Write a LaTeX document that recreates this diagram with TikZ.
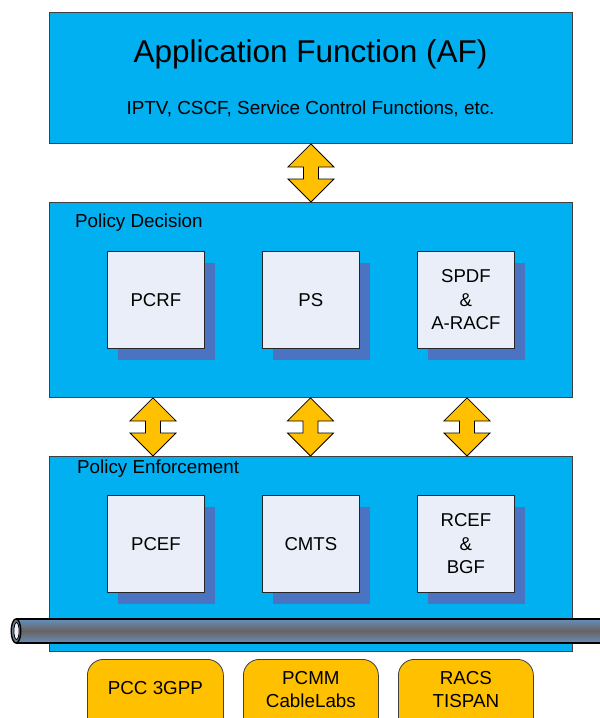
\documentclass[tikz,border=0pt]{standalone}
\usepackage{fontspec}
\setmainfont{Liberation Sans}
\usetikzlibrary{calc,shadows}
\definecolor{layerblue}{HTML}{00B0F0}
\definecolor{cellfill}{HTML}{E9EEF8}
\definecolor{cellshadow}{HTML}{4A74C2}
\definecolor{amber}{HTML}{FFC000}
\definecolor{pipeblue}{HTML}{6490BC}
\definecolor{pipegray}{HTML}{6A6262}
% two-headed block arrow from a top tip to a bottom tip
\newcommand\bothways[2]{%
  \draw[updown] (#1) -- ++(23,23) -- ++(-15.5,0) -- ($(#2)+(7.5,-23)$)
    -- ++(15.5,0) -- (#2) -- ++(-23,-23) -- ++(15.5,0)
    -- ($(#1)+(-7.5,23)$) -- ++(-15.5,0) -- cycle;}
\begin{document}
\begin{tikzpicture}[x=1pt,y=-1pt,
  layer/.style={draw=black!75, line width=0.9pt, fill=layerblue,
    anchor=north west, inner sep=0pt, minimum width=523pt},
  cell/.style={draw=black!85, line width=0.8pt, fill=cellfill,
    anchor=north west, minimum width=97pt, minimum height=97pt,
    inner sep=0pt, align=center, font=\fontsize{18.6}{23.5}\selectfont,
    general shadow={fill=cellshadow, shadow xshift=11pt, shadow yshift=-12pt}},
  tag/.style={draw=black!75, line width=0.8pt, fill=amber,
    rounded corners=16pt, anchor=north west, minimum height=80pt, inner sep=0pt},
  tagtext/.style={align=center, inner sep=0pt, font=\fontsize{18.8}{23}\selectfont},
  caption/.style={anchor=base west, inner sep=0pt, font=\fontsize{18.8}{23}\selectfont},
  updown/.style={fill=amber, draw=black, line width=0.8pt, line join=miter},
  tube/.style={line width=1.4pt, draw=black}]
\useasboundingbox (0,0) rectangle (600,718);
\clip (0,0) rectangle (600,718);
\fill[white] (0,0) rectangle (600,718);

% application function layer
\node[layer, minimum height=131pt] (af) at (49,12) {};
\node[anchor=base, inner sep=0pt, font=\fontsize{31.5}{38}\selectfont] (aftitle) at (310.5,62) {Application Function (AF)};
\node[anchor=base, inner sep=0pt, font=\fontsize{18.9}{23}\selectfont] (afsub) at (310.5,114) {IPTV, CSCF, Service Control Functions, etc.};

% policy decision layer
\node[layer, minimum height=195pt] (pd) at (49,202) {};
\node[caption] (pdcap) at (75,227) {Policy Decision};
\node[cell] (pcrf) at (107,251) {PCRF};
\node[cell] (ps) at (262,251) {PS};
\node[cell] (spdf) at (417,251) {SPDF\\\&\\A-RACF};

% policy enforcement layer
\node[layer, minimum height=195pt] (pe) at (49,456) {};
\node[caption] (pecap) at (77,473) {Policy Enforcement};
\node[cell] (pcef) at (107,495) {PCEF};
\node[cell] (cmts) at (262,495) {CMTS};
\node[cell] (rcef) at (417,495) {RCEF\\\&\\BGF};

% interfaces between the layers
\bothways{af.south}{pd.north}
\coordinate (d1) at (153,0 |- pd.south);
\coordinate (e1) at (153,0 |- pe.north);
\coordinate (d2) at (310.5,0 |- pd.south);
\coordinate (e2) at (310.5,0 |- pe.north);
\coordinate (d3) at (467,0 |- pd.south);
\coordinate (e3) at (467,0 |- pe.north);
\bothways{d1}{e1}
\bothways{d2}{e2}
\bothways{d3}{e3}

% transport pipe
\shade[top color=pipeblue, bottom color=pipeblue, middle color=pipegray] (16,619) rectangle (612,643);
\draw[tube] (612,619) -- (16,619) (16,643) -- (612,643);
\draw[tube, fill=pipegray!50!pipeblue] (16,631) ellipse [x radius=4.8, y radius=12];
\draw[line width=0.8pt, fill=blue!6] (16.5,631) ellipse [x radius=2.6, y radius=8.5];

% standards bodies
\node[tag, minimum width=136pt] (pcc) at (87,659) {};
\node[tag, minimum width=135pt] (pcmm) at (243,659) {};
\node[tag, minimum width=135pt] (racs) at (398,659) {};
\node[tagtext] (pcctext) at ($(pcc.north)+(0,29.5)$) {PCC 3GPP};
\node[tagtext] (pcmmtext) at ($(pcmm.north)+(0,31)$) {PCMM\\CableLabs};
\node[tagtext] (racstext) at ($(racs.north)+(0,31)$) {RACS\\TISPAN};
\end{tikzpicture}
\end{document}
